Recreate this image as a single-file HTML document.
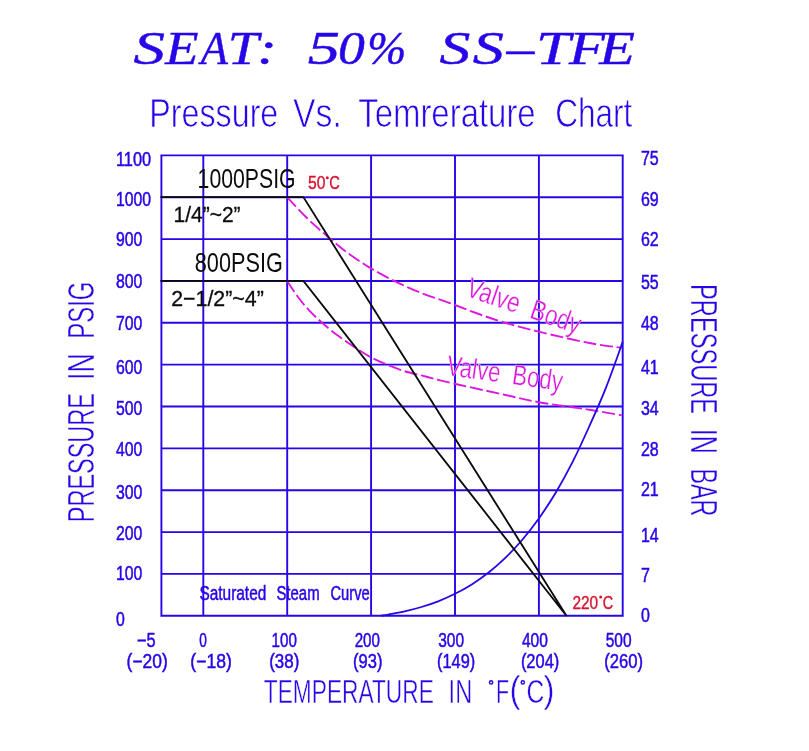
<!DOCTYPE html>
<html><head><meta charset="utf-8"><title>SEAT: 50% SS-TFE</title>
<style>html,body{margin:0;padding:0;background:#fff}body{width:809px;height:751px;overflow:hidden}svg{display:block;will-change:transform}text{font-family:"Liberation Sans",sans-serif}.t{font-family:"Liberation Serif",serif;font-style:italic;font-weight:normal;stroke:#2606e8;stroke-width:0.45px}.b{stroke:#2606e8;stroke-width:0.5px}.r{stroke:#d8142f;stroke-width:0.4px}.e3{stroke:#fff;stroke-width:0.3px}.e2{stroke:#fff;stroke-width:0.75px}.k{stroke:#0b0b0b;stroke-width:0.3px}.e{stroke:#fff;stroke-width:0.45px}</style></head><body>
<svg width="809" height="751" viewBox="0 0 809 751">
<rect width="809" height="751" fill="#fff"/>
<path d="M161.4 154.4V616.8M203.3 154.4V616.8M287.2 154.4V616.8M371.1 154.4V616.8M455.0 154.4V616.8M538.9 154.4V616.8M622.7 154.4V616.8M160.4 155.4H623.7M160.4 197.2H623.7M160.4 239.1H623.7M160.4 281.0H623.7M160.4 322.8H623.7M160.4 364.6H623.7M160.4 406.5H623.7M160.4 448.4H623.7M160.4 490.2H623.7M160.4 532.1H623.7M160.4 573.9H623.7M160.4 615.8H623.7" stroke="#2606e8" stroke-width="1.9" fill="none"/>
<path d="M287.1 197.1C290.4 200.6 299.9 211.2 306.7 217.8C313.5 224.4 321.1 230.9 327.8 236.7C334.5 242.4 339.8 247.1 346.8 252.3C353.9 257.5 362.0 263.0 370.1 267.9C378.2 272.8 387.0 277.4 395.7 281.6C404.4 285.9 413.5 289.9 422.4 293.4C431.3 296.9 440.2 299.5 449.1 302.8C458.0 306.1 466.8 309.7 476.0 313.0C485.2 316.3 493.8 319.4 504.3 322.5C514.8 325.6 524.9 328.3 538.9 331.7C552.9 335.1 574.5 340.1 588.3 342.8C602.1 345.5 616.1 347.0 621.7 347.8" stroke="#dd18dd" stroke-width="1.9" fill="none" stroke-dasharray="13 3.8"/>
<path d="M287.1 280.9C288.9 283.5 294.2 291.8 297.8 296.7C301.4 301.6 304.8 305.7 308.9 310.1C313.0 314.5 317.5 318.8 322.3 323.0C327.1 327.2 332.3 331.5 337.9 335.6C343.5 339.8 350.3 344.4 355.7 347.9C361.1 351.4 364.9 354.0 370.1 356.8C375.3 359.6 381.1 362.2 386.8 364.6C392.6 367.0 398.7 369.4 404.6 371.2C410.5 373.0 416.5 374.2 422.4 375.7C428.3 377.2 433.9 378.8 440.2 380.3C446.5 381.9 449.3 382.6 460.0 385.0C470.7 387.4 491.2 391.8 504.3 394.7C517.5 397.6 524.9 399.7 538.9 402.2C552.9 404.7 574.5 407.4 588.3 409.6C602.1 411.8 616.1 414.4 621.7 415.3" stroke="#dd18dd" stroke-width="1.9" fill="none" stroke-dasharray="13 3.8"/>
<path d="M381.2 615.7C382.3 615.5 384.0 615.4 387.9 614.7C391.8 613.9 399.1 612.7 404.7 611.4C410.3 610.1 415.8 608.7 421.4 607.0C427.0 605.3 432.6 603.5 438.2 601.3C443.8 599.1 449.4 596.6 455.0 593.8C460.6 591.0 466.2 587.9 471.8 584.4C477.4 580.8 483.0 576.9 488.6 572.5C494.2 568.0 499.7 563.2 505.3 557.8C510.9 552.4 516.5 546.6 522.1 540.0C527.7 533.4 533.3 526.2 538.9 518.4C544.5 510.5 550.1 502.0 555.7 492.7C561.3 483.3 566.9 473.1 572.5 462.1C578.1 451.1 583.6 439.0 589.2 426.5C594.8 414.1 600.4 401.8 606.0 387.6C611.6 373.5 620.0 349.3 622.8 341.6" stroke="#2606e8" stroke-width="1.8" fill="none"/>
<path d="M160.4 197.1H303.4L566.6 616M160.4 280.9H303.4L566.6 616" stroke="#0b0b0b" stroke-width="1.85" fill="none"/>
<text class="t" transform="translate(133.6 63.9) scale(1.367 1)" font-size="46" fill="#2606e8">S</text>
<text class="t" transform="translate(165.2 63.9) scale(1.183 1)" font-size="46" fill="#2606e8">E</text>
<text class="t" transform="translate(200.8 63.9) scale(0.965 1)" font-size="46" fill="#2606e8">A</text>
<text class="t" transform="translate(227.7 63.9) scale(1.210 1)" font-size="46" fill="#2606e8">T</text>
<text class="t" transform="translate(257.0 63.9) scale(1.314 1)" font-size="46" fill="#2606e8">:</text>
<text class="t" transform="translate(307.7 63.9) scale(1.400 1)" font-size="46" fill="#2606e8">5</text>
<text class="t" transform="translate(338.1 63.9) scale(1.168 1)" font-size="46" fill="#2606e8">0</text>
<text class="t" transform="translate(367.2 63.9) scale(1.019 1)" font-size="46" fill="#2606e8">%</text>
<text class="t" transform="translate(439.6 63.9) scale(1.340 1)" font-size="46" fill="#2606e8">S</text>
<text class="t" transform="translate(472.8 63.9) scale(1.354 1)" font-size="46" fill="#2606e8">S</text>
<text class="t" transform="translate(506.5 63.9) scale(1.210 1)" font-size="46" fill="#2606e8">–</text>
<text class="t" transform="translate(536.1 63.9) scale(1.344 1)" font-size="46" fill="#2606e8">T</text>
<text class="t" transform="translate(569.0 63.9) scale(1.278 1)" font-size="46" fill="#2606e8">F</text>
<text class="t" transform="translate(599.3 63.9) scale(1.269 1)" font-size="46" fill="#2606e8">E</text>
<text x="149.3" y="126.8" font-size="41.5" fill="#2606e8" textLength="129" lengthAdjust="spacingAndGlyphs" class="e2">Pressure</text>
<text x="293.1" y="126.8" font-size="41.5" fill="#2606e8" textLength="48.8" lengthAdjust="spacingAndGlyphs" class="e2">Vs.</text>
<text x="358.2" y="126.8" font-size="41.5" fill="#2606e8" textLength="177.5" lengthAdjust="spacingAndGlyphs" class="e2">Temrerature</text>
<text x="555.2" y="126.8" font-size="41.5" fill="#2606e8" textLength="77.2" lengthAdjust="spacingAndGlyphs" class="e2">Chart</text>
<text x="115.9" y="165.9" font-size="19.5" fill="#2606e8" textLength="35.2" lengthAdjust="spacingAndGlyphs" class="b">1100</text>
<text x="115.9" y="206.0" font-size="19.5" fill="#2606e8" textLength="35.2" lengthAdjust="spacingAndGlyphs" class="b">1000</text>
<text x="115.9" y="245.8" font-size="19.5" fill="#2606e8" textLength="26.400000000000002" lengthAdjust="spacingAndGlyphs" class="b">900</text>
<text x="115.9" y="288.09999999999997" font-size="19.5" fill="#2606e8" textLength="26.400000000000002" lengthAdjust="spacingAndGlyphs" class="b">800</text>
<text x="115.9" y="329.59999999999997" font-size="19.5" fill="#2606e8" textLength="26.400000000000002" lengthAdjust="spacingAndGlyphs" class="b">700</text>
<text x="115.9" y="373.9" font-size="19.5" fill="#2606e8" textLength="26.400000000000002" lengthAdjust="spacingAndGlyphs" class="b">600</text>
<text x="115.9" y="414.79999999999995" font-size="19.5" fill="#2606e8" textLength="26.400000000000002" lengthAdjust="spacingAndGlyphs" class="b">500</text>
<text x="115.9" y="456.0" font-size="19.5" fill="#2606e8" textLength="26.400000000000002" lengthAdjust="spacingAndGlyphs" class="b">400</text>
<text x="115.9" y="498.59999999999997" font-size="19.5" fill="#2606e8" textLength="26.400000000000002" lengthAdjust="spacingAndGlyphs" class="b">300</text>
<text x="115.9" y="539.5" font-size="19.5" fill="#2606e8" textLength="26.400000000000002" lengthAdjust="spacingAndGlyphs" class="b">200</text>
<text x="115.9" y="580.0" font-size="19.5" fill="#2606e8" textLength="26.400000000000002" lengthAdjust="spacingAndGlyphs" class="b">100</text>
<text x="115.9" y="626.1" font-size="19.5" fill="#2606e8" textLength="8.8" lengthAdjust="spacingAndGlyphs" class="b">0</text>
<text x="640.9" y="164.79999999999998" font-size="19.5" fill="#2606e8" textLength="17.8" lengthAdjust="spacingAndGlyphs" class="b">75</text>
<text x="640.9" y="205.7" font-size="19.5" fill="#2606e8" textLength="17.8" lengthAdjust="spacingAndGlyphs" class="b">69</text>
<text x="640.9" y="246.2" font-size="19.5" fill="#2606e8" textLength="17.8" lengthAdjust="spacingAndGlyphs" class="b">62</text>
<text x="640.9" y="288.8" font-size="19.5" fill="#2606e8" textLength="17.8" lengthAdjust="spacingAndGlyphs" class="b">55</text>
<text x="640.9" y="330.0" font-size="19.5" fill="#2606e8" textLength="17.8" lengthAdjust="spacingAndGlyphs" class="b">48</text>
<text x="640.9" y="374.3" font-size="19.5" fill="#2606e8" textLength="17.8" lengthAdjust="spacingAndGlyphs" class="b">41</text>
<text x="640.9" y="415.20000000000005" font-size="19.5" fill="#2606e8" textLength="17.8" lengthAdjust="spacingAndGlyphs" class="b">34</text>
<text x="640.9" y="456.1" font-size="19.5" fill="#2606e8" textLength="17.8" lengthAdjust="spacingAndGlyphs" class="b">28</text>
<text x="640.9" y="495.6" font-size="19.5" fill="#2606e8" textLength="17.8" lengthAdjust="spacingAndGlyphs" class="b">21</text>
<text x="640.9" y="541.6" font-size="19.5" fill="#2606e8" textLength="17.8" lengthAdjust="spacingAndGlyphs" class="b">14</text>
<text x="640.9" y="582.1" font-size="19.5" fill="#2606e8" textLength="8.9" lengthAdjust="spacingAndGlyphs" class="b">7</text>
<text x="640.9" y="622.3000000000001" font-size="19.5" fill="#2606e8" textLength="8.9" lengthAdjust="spacingAndGlyphs" class="b">0</text>
<text x="137" y="646.8" font-size="19.5" fill="#2606e8" textLength="18.7" lengthAdjust="spacingAndGlyphs" class="b">−5</text>
<text x="199.3" y="646.8" font-size="19.5" fill="#2606e8" textLength="7.6" lengthAdjust="spacingAndGlyphs" class="b">0</text>
<text x="271.6" y="646.8" font-size="19.5" fill="#2606e8" textLength="25.3" lengthAdjust="spacingAndGlyphs" class="b">100</text>
<text x="354.7" y="646.8" font-size="19.5" fill="#2606e8" textLength="25.3" lengthAdjust="spacingAndGlyphs" class="b">200</text>
<text x="438.2" y="646.8" font-size="19.5" fill="#2606e8" textLength="25.9" lengthAdjust="spacingAndGlyphs" class="b">300</text>
<text x="521.9" y="646.8" font-size="19.5" fill="#2606e8" textLength="26.0" lengthAdjust="spacingAndGlyphs" class="b">400</text>
<text x="605.7" y="646.8" font-size="19.5" fill="#2606e8" textLength="25.9" lengthAdjust="spacingAndGlyphs" class="b">500</text>
<text x="126.6" y="667.5" font-size="19.5" fill="#2606e8" textLength="41.2" lengthAdjust="spacingAndGlyphs" class="b">(−20)</text>
<text x="190.3" y="667.5" font-size="19.5" fill="#2606e8" textLength="41.5" lengthAdjust="spacingAndGlyphs" class="b">(−18)</text>
<text x="269.2" y="667.5" font-size="19.5" fill="#2606e8" textLength="30.1" lengthAdjust="spacingAndGlyphs" class="b">(38)</text>
<text x="353" y="667.5" font-size="19.5" fill="#2606e8" textLength="29.4" lengthAdjust="spacingAndGlyphs" class="b">(93)</text>
<text x="437.1" y="667.5" font-size="19.5" fill="#2606e8" textLength="38.1" lengthAdjust="spacingAndGlyphs" class="b">(149)</text>
<text x="520.9" y="667.5" font-size="19.5" fill="#2606e8" textLength="38.4" lengthAdjust="spacingAndGlyphs" class="b">(204)</text>
<text x="604.3" y="667.5" font-size="19.5" fill="#2606e8" textLength="38.8" lengthAdjust="spacingAndGlyphs" class="b">(260)</text>
<text x="263.8" y="703.1" font-size="34" fill="#2606e8" textLength="170.0" lengthAdjust="spacingAndGlyphs" class="e">TEMPERATURE</text>
<text x="448.6" y="703.1" font-size="34" fill="#2606e8" textLength="23.6" lengthAdjust="spacingAndGlyphs" class="e">IN</text>
<text x="495.9" y="703.1" font-size="34" fill="#2606e8" textLength="13.1" lengthAdjust="spacingAndGlyphs" class="e">F</text>
<text x="509.5" y="702" font-size="36.5" fill="#2606e8" textLength="11.0" lengthAdjust="spacingAndGlyphs" class="e">(</text>
<text x="526.6" y="703.1" font-size="34" fill="#2606e8" textLength="17.8" lengthAdjust="spacingAndGlyphs" class="e">C</text>
<text x="543.5" y="702" font-size="36.5" fill="#2606e8" textLength="11.0" lengthAdjust="spacingAndGlyphs" class="e">)</text>
<circle cx="491.1" cy="682.4" r="1.6" fill="none" stroke="#2606e8" stroke-width="1.5"/>
<circle cx="522.8" cy="682.4" r="1.6" fill="none" stroke="#2606e8" stroke-width="1.5"/>
<text class="e" transform="translate(93.6 522.2) rotate(-90)" font-size="37" fill="#2606e8" textLength="129.1" lengthAdjust="spacingAndGlyphs">PRESSURE</text>
<text class="e" transform="translate(93.6 380) rotate(-90)" font-size="37" fill="#2606e8" textLength="26.7" lengthAdjust="spacingAndGlyphs">IN</text>
<text class="e" transform="translate(93.6 338.8) rotate(-90)" font-size="37" fill="#2606e8" textLength="57.2" lengthAdjust="spacingAndGlyphs">PSIG</text>
<text class="e" transform="translate(691 284.1) rotate(90)" font-size="37" fill="#2606e8" textLength="129.9" lengthAdjust="spacingAndGlyphs">PRESSURE</text>
<text class="e" transform="translate(691 428.7) rotate(90)" font-size="37" fill="#2606e8" textLength="25.1" lengthAdjust="spacingAndGlyphs">IN</text>
<text class="e" transform="translate(691 468.4) rotate(90)" font-size="37" fill="#2606e8" textLength="48" lengthAdjust="spacingAndGlyphs">BAR</text>
<text x="197.6" y="188.2" font-size="27.5" fill="#0b0b0b" textLength="98" lengthAdjust="spacingAndGlyphs">1000PSIG</text>
<text x="194.8" y="271.6" font-size="27.5" fill="#0b0b0b" textLength="88" lengthAdjust="spacingAndGlyphs">800PSIG</text>
<text x="173.6" y="222" font-size="22" fill="#0b0b0b" textLength="67" lengthAdjust="spacingAndGlyphs" class="k">1/4”~2”</text>
<text x="171.2" y="305.6" font-size="22" fill="#0b0b0b" textLength="92.6" lengthAdjust="spacingAndGlyphs" class="k">2−1/2”~4”</text>
<text x="308.1" y="189.1" font-size="19" fill="#d8142f" textLength="17.4" lengthAdjust="spacingAndGlyphs" class="r">50</text>
<text x="329.2" y="189.1" font-size="19" fill="#d8142f" textLength="10.6" lengthAdjust="spacingAndGlyphs" class="r">C</text>
<circle cx="327.3" cy="177.7" r="1.5" fill="#d8142f"/>
<text x="572.4" y="608.6" font-size="19" fill="#d8142f" textLength="25.8" lengthAdjust="spacingAndGlyphs" class="r">220</text>
<text x="602.8" y="608.6" font-size="19" fill="#d8142f" textLength="10.4" lengthAdjust="spacingAndGlyphs" class="r">C</text>
<circle cx="600.7" cy="597" r="1.5" fill="#d8142f"/>
<text x="199.4" y="600.1" font-size="19.5" fill="#2606e8" textLength="66.9" lengthAdjust="spacingAndGlyphs" class="b">Saturated</text>
<text x="276.4" y="600.1" font-size="19.5" fill="#2606e8" textLength="43.2" lengthAdjust="spacingAndGlyphs" class="b">Steam</text>
<text x="330.4" y="600.1" font-size="19.5" fill="#2606e8" textLength="39.3" lengthAdjust="spacingAndGlyphs" class="b">Curve</text>
<text class="e3" transform="translate(464.7 295.6) rotate(19)" font-size="28.5" fill="#dd18dd" textLength="119" lengthAdjust="spacingAndGlyphs">Valve&#160;&#160;Body</text>
<text class="e3" transform="translate(445.7 374.8) rotate(8)" font-size="28.5" fill="#dd18dd" textLength="117" lengthAdjust="spacingAndGlyphs">Valve&#160;&#160;Body</text>
</svg></body></html>
